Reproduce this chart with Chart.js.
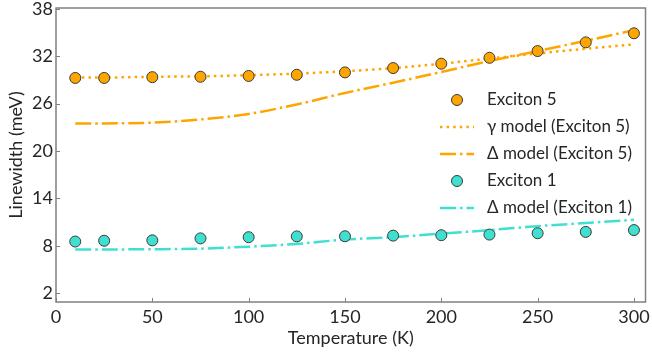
<!DOCTYPE html>
<html>
<head>
<meta charset="utf-8">
<script src="https://cdn.jsdelivr.net/npm/chart.js@4/dist/chart.umd.min.js"></script>
<style>
html,body{margin:0;padding:0;background:#fff;}
#wrap{width:652px;height:356px;}
</style>
</head>
<body>
<div id="wrap"><canvas id="c" width="652" height="356"></canvas></div>
<script>
// ---- data ----
const temps = [10, 25, 50, 75, 100, 125, 150, 175, 200, 225, 250, 275, 300];
const exciton5 = [29.25, 29.25, 29.35, 29.4, 29.5, 29.65, 29.95, 30.5, 31.05, 31.8, 32.65, 33.75, 34.9];
const gammaModel5 = [29.3, 29.3, 29.4, 29.45, 29.6, 29.8, 30.1, 30.5, 31.05, 31.7, 32.35, 32.95, 33.5];
const deltaModel5 = [23.5, 23.5, 23.6, 24.0, 24.7, 25.9, 27.35, 28.65, 30.0, 31.4, 32.65, 33.95, 35.3];
const exciton1 = [8.55, 8.65, 8.7, 8.95, 9.1, 9.2, 9.22, 9.3, 9.35, 9.43, 9.6, 9.77, 10.0];
const deltaModel1 = [7.55, 7.55, 7.58, 7.65, 7.9, 8.25, 8.8, 9.1, 9.55, 10.0, 10.5, 10.9, 11.3];
const xTicks = [0, 50, 100, 150, 200, 250, 300];
const yTicks = [2, 8, 14, 20, 26, 32, 38];
const labels = ['Exciton 5', 'γ model (Exciton 5)', 'Δ model (Exciton 5)', 'Exciton 1', 'Δ model (Exciton 1)'];

const ORANGE = '#FFA500';
const TURQ = '#40E0D0';
const TEXT = '#262626';
const FRAME = '#808080';
const FONT = 'Lato, "Open Sans", sans-serif';
const DOT = [2.5, 4.1];
const DASHDOT = [16, 4, 2.5, 4];

const pts = (xs, ys) => xs.map((x, i) => ({x: x, y: ys[i]}));

const datasets = [
  {label: labels[0], data: pts(temps, exciton5), showLine: false, pointRadius: 5.5, pointBackgroundColor: ORANGE, pointBorderColor: '#3a3a3a', pointBorderWidth: 1, legendType: 'point'},
  {label: labels[3], data: pts(temps, exciton1), showLine: false, pointRadius: 5.5, pointBackgroundColor: TURQ, pointBorderColor: '#3a3a3a', pointBorderWidth: 1, legendType: 'point'},
  {label: labels[1], data: pts(temps, gammaModel5), showLine: true, pointRadius: 0, borderColor: ORANGE, borderWidth: 2.5, borderDash: DOT, tension: 0.4, cubicInterpolationMode: 'monotone', legendType: 'line'},
  {label: labels[2], data: pts(temps, deltaModel5), showLine: true, pointRadius: 0, borderColor: ORANGE, borderWidth: 2.5, borderDash: DASHDOT, tension: 0.4, cubicInterpolationMode: 'monotone', legendType: 'line'},
  {label: labels[4], data: pts(temps, deltaModel1), showLine: true, pointRadius: 0, borderColor: TURQ, borderWidth: 2.5, borderDash: DASHDOT, tension: 0.4, cubicInterpolationMode: 'monotone', legendType: 'line'}
];

const framePlugin = {
  id: 'framePlugin',
  afterDraw(chart) {
    const ctx = chart.ctx;
    const a = chart.chartArea;
    ctx.save();
    ctx.strokeStyle = FRAME;
    ctx.lineWidth = 1.5;
    ctx.setLineDash([]);
    ctx.strokeRect(a.left, a.top, a.right - a.left, a.bottom - a.top);
    ctx.lineWidth = 1;
    const xs = chart.scales.x, ys = chart.scales.y;
    xTicks.forEach(v => {
      const px = Math.round(xs.getPixelForValue(v)) + 0.5;
      ctx.beginPath(); ctx.moveTo(px, a.bottom); ctx.lineTo(px, a.bottom - 4); ctx.stroke();
    });
    yTicks.forEach(v => {
      const py = Math.round(ys.getPixelForValue(v)) + 0.5;
      ctx.beginPath(); ctx.moveTo(a.left, py); ctx.lineTo(a.left + 4, py); ctx.stroke();
    });
    // legend
    const order = [0, 2, 3, 1, 4];
    const rowY = [100, 127, 154, 181, 208];
    const symX0 = 440, symX1 = 474, textX = 487;
    ctx.font = '17px ' + FONT;
    ctx.textBaseline = 'middle';
    ctx.textAlign = 'left';
    order.forEach((di, r) => {
      const ds = chart.data.datasets[di];
      const y = rowY[r];
      if (ds.legendType === 'point') {
        ctx.beginPath();
        ctx.arc((symX0 + symX1) / 2, y, 5.5, 0, Math.PI * 2);
        ctx.fillStyle = ds.pointBackgroundColor;
        ctx.fill();
        ctx.setLineDash([]);
        ctx.lineWidth = 1;
        ctx.strokeStyle = ds.pointBorderColor;
        ctx.stroke();
      } else {
        ctx.beginPath();
        ctx.setLineDash(ds.borderDash);
        ctx.lineWidth = ds.borderWidth;
        ctx.strokeStyle = ds.borderColor;
        ctx.moveTo(symX0, y); ctx.lineTo(symX1, y);
        ctx.stroke();
        ctx.setLineDash([]);
      }
      ctx.fillStyle = TEXT;
      ctx.fillText(ds.label, textX, y);
    });
    ctx.restore();
  }
};

new Chart(document.getElementById('c'), {
  type: 'scatter',
  data: {datasets: datasets},
  options: {
    responsive: false,
    animation: false,
    layout: {padding: {left: 0, right: 4, top: 8, bottom: 0}},
    plugins: {legend: {display: false}, tooltip: {enabled: false}},
    scales: {
      x: {
        type: 'linear', min: 0, max: 306,
        afterBuildTicks: s => { s.ticks = xTicks.map(v => ({value: v})); },
        afterFit: s => { s.height = 54; s.paddingLeft = 0; s.paddingRight = 0; },
        grid: {display: false, drawTicks: false},
        border: {display: false},
        ticks: {font: {family: FONT, size: 18}, color: TEXT, padding: 4, maxRotation: 0},
        title: {display: true, text: 'Temperature (K)', font: {family: FONT, size: 18}, color: TEXT, padding: {top: 0, bottom: 7}}
      },
      y: {
        type: 'linear', min: 0.9, max: 38.1,
        afterBuildTicks: s => { s.ticks = yTicks.map(v => ({value: v})); },
        afterFit: s => { s.width = 56; s.paddingTop = 0; s.paddingBottom = 0; },
        grid: {display: false, drawTicks: false},
        border: {display: false},
        ticks: {font: {family: FONT, size: 18}, color: TEXT, padding: 3},
        title: {display: true, text: 'Linewidth (meV)', font: {family: FONT, size: 18}, color: TEXT, padding: {top: 5, bottom: 0}}
      }
    }
  },
  plugins: [framePlugin]
});
</script>
</body>
</html>
